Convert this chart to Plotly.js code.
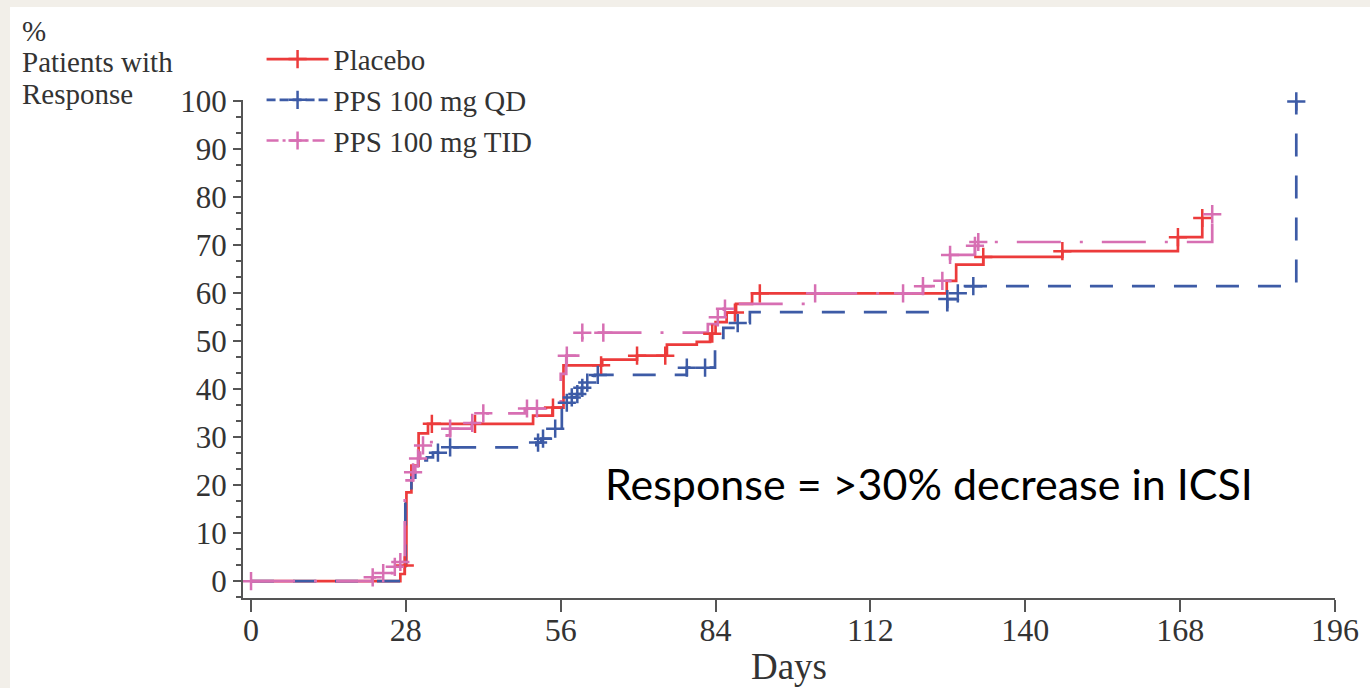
<!DOCTYPE html>
<html>
<head>
<meta charset="utf-8">
<script src="https://cdn.plot.ly/plotly-3.0.1.min.js"></script>
<style>
  html, body { margin: 0; padding: 0; background: #f2efe9; width: 1370px; height: 688px; overflow: hidden; }
  #chart { position: absolute; left: 10px; top: 7px; width: 1360px; height: 681px; background: #ffffff; }
</style>
</head>
<body>
<div id="chart"></div>
<script>
// ---- Data ----
const seriesNames = ["Placebo", "PPS 100 mg QD", "PPS 100 mg TID"];

// Placebo: step change points (days) and cumulative % responders
const placeboDays = [0, 27.0, 27.8, 28.1, 29.0, 30.3, 32.0, 51.0, 54.5, 56.5, 63.5, 69.8, 75.2, 80.6, 83.0, 84.0, 86.0, 87.7, 90.6, 125.8, 127.5, 132.4, 146.7, 167.6, 172.0];
const placeboPct  = [0, 1.5, 3.3, 18.5, 24.1, 30.8, 32.8, 34.5, 36.2, 45.0, 46.2, 47.0, 49.3, 49.9, 51.6, 54.0, 56.0, 57.8, 60.0, 62.6, 66.0, 67.6, 68.8, 71.7, 75.7];
const placeboCensor = [27.8, 32.7, 40.5, 54.6, 63.3, 69.8, 74.9, 83.4, 87.5, 92.0, 132.4, 146.7, 167.6, 172.0];

// PPS 100 mg QD
const qdDays = [0, 27.9, 29.0, 29.7, 30.9, 31.8, 32.9, 34.6, 51.6, 52.5, 54.5, 56.2, 57.1, 58.0, 58.9, 59.8, 60.8, 61.8, 62.2, 78.8, 83.9, 85.4, 87.9, 90.2, 125.9, 127.8, 129.1, 189.0];
const qdPct  = [0, 18.5, 21.6, 23.0, 25.2, 25.8, 26.8, 27.9, 28.9, 29.7, 31.8, 36.2, 37.2, 38.3, 39.0, 40.3, 41.4, 42.8, 43.0, 44.5, 50.7, 52.8, 53.8, 56.1, 58.8, 60.0, 61.5, 100.0];
const qdCensor = [33.8, 36.0, 51.9, 52.8, 55.0, 57.1, 58.0, 59.0, 59.9, 60.8, 62.7, 78.8, 82.1, 88.0, 125.9, 127.8, 130.6, 189.0];

// PPS 100 mg TID
const tidDays = [0, 21.9, 23.7, 25.9, 26.8, 27.8, 29.3, 29.7, 30.2, 30.6, 31.1, 31.8, 35.4, 36.0, 39.9, 41.0, 49.5, 56.0, 57.0, 59.9, 82.6, 84.4, 85.5, 86.6, 101.7, 121.5, 124.9, 126.4, 130.9, 131.5, 173.8];
const tidPct  = [0, 0.8, 1.7, 3.0, 4.0, 21.0, 22.7, 24.0, 25.6, 26.8, 28.3, 29.0, 30.4, 31.8, 33.0, 35.0, 36.0, 43.2, 47.0, 51.8, 53.6, 55.0, 56.8, 57.8, 60.0, 61.5, 62.6, 68.0, 69.9, 70.7, 76.5];
const tidCensor = [0, 22.0, 23.9, 26.0, 27.0, 29.3, 30.2, 31.1, 36.0, 40.0, 42.0, 49.9, 51.7, 57.1, 59.9, 63.7, 84.4, 85.7, 102.0, 117.9, 121.5, 125.0, 126.4, 130.9, 131.5, 173.8];

const xTicks = [0, 28, 56, 84, 112, 140, 168, 196];
const yTicks = [0, 10, 20, 30, 40, 50, 60, 70, 80, 90, 100];
const yTitleLines = ["%", "Patients with", "Response"];
const noteText = "Response = >30% decrease in ICSI";

// ---- Styles ----
const colors = ["#ec3b3b", "#3d5ba6", "#d76fb3"];
const dashes = ["solid", "23px,19px", "44px,19px,3px,19px"];
const legendDashes = ["solid", "9px,4px", "12px,4px,3px,4px"];
const serif = "Liberation Serif, Times New Roman, serif";
const textColor = "#333333";

function stepAt(days, vals, t) {
  let v = vals[0];
  for (let i = 0; i < days.length; i++) if (days[i] <= t + 1e-9) v = vals[i];
  return v;
}

const series = [
  {days: placeboDays, pct: placeboPct, cens: placeboCensor},
  {days: qdDays, pct: qdPct, cens: qdCensor},
  {days: tidDays, pct: tidPct, cens: tidCensor}
];

const traces = [];
series.forEach((s, i) => {
  traces.push({
    x: s.days, y: s.pct, type: "scatter", mode: "lines",
    line: {shape: "hv", color: colors[i], width: 2.7, dash: dashes[i]},
    showlegend: false, hoverinfo: "skip", cliponaxis: false
  });
});
series.forEach((s, i) => {
  traces.push({
    x: s.cens, y: s.cens.map(t => stepAt(s.days, s.pct, t)),
    type: "scatter", mode: "markers",
    marker: {symbol: "cross-thin", size: 13, color: colors[i], line: {color: colors[i], width: 2.5}},
    showlegend: false, hoverinfo: "skip", cliponaxis: false
  });
});
series.forEach((s, i) => {
  traces.push({
    x: [null], y: [null], type: "scatter", mode: "lines+markers", name: seriesNames[i],
    line: {color: colors[i], width: 2.7, dash: legendDashes[i]},
    marker: {symbol: "cross-thin", size: 13, color: colors[i], line: {color: colors[i], width: 2.5}}
  });
});

const axisColor = "#555555";
const yTitleAnnots = yTitleLines.map((t, k) => ({
  text: t, xref: "paper", yref: "paper", x: -0.204, y: 1.138 - k * 0.0625,
  xanchor: "left", yanchor: "middle", showarrow: false,
  font: {family: serif, size: 29, color: textColor}
}));

const layout = {
  width: 1360, height: 681,
  margin: {l: 233, r: 35, t: 93, b: 90},
  paper_bgcolor: "#ffffff", plot_bgcolor: "#ffffff",
  font: {family: serif, color: textColor},
  showlegend: true,
  legend: {
    x: 0.017, y: 1.133, xanchor: "left", yanchor: "top",
    font: {family: serif, size: 29, color: textColor},
    itemwidth: 62, tracegroupgap: 0, traceorder: "normal",
    bgcolor: "rgba(0,0,0,0)", borderwidth: 0
  },
  xaxis: {
    range: [-1.45, 196], tickvals: xTicks, ticktext: xTicks.map(String),
    showgrid: false, zeroline: false, showline: true, linecolor: axisColor, linewidth: 2,
    ticks: "outside", ticklen: 12, tickwidth: 2, tickcolor: axisColor,
    ticklabelstandoff: -9,
    tickfont: {family: serif, size: 32, color: textColor},
    title: {text: "Days", font: {family: serif, size: 37, color: textColor}, standoff: 6}
  },
  yaxis: {
    range: [-3.5, 100.3], tickvals: yTicks, ticktext: yTicks.map(String),
    showgrid: false, zeroline: false, showline: true, linecolor: axisColor, linewidth: 2,
    ticks: "outside", ticklen: 8, tickwidth: 2, tickcolor: axisColor,
    minor: {dtick: 10 / 3, tick0: 0, ticks: "outside", ticklen: 5, tickwidth: 2, tickcolor: axisColor, showgrid: false},
    tickfont: {family: serif, size: 31, color: textColor}
  },
  annotations: yTitleAnnots.concat([
    {text: noteText, xref: "x", yref: "y", x: 63.7, y: 20.4, xanchor: "left", yanchor: "middle", showarrow: false,
     font: {family: "Lato, Noto Sans, sans-serif", size: 43, color: "#000000"}}
  ])
};

Plotly.newPlot("chart", traces, layout, {displayModeBar: false, staticPlot: true});
</script>
</body>
</html>
